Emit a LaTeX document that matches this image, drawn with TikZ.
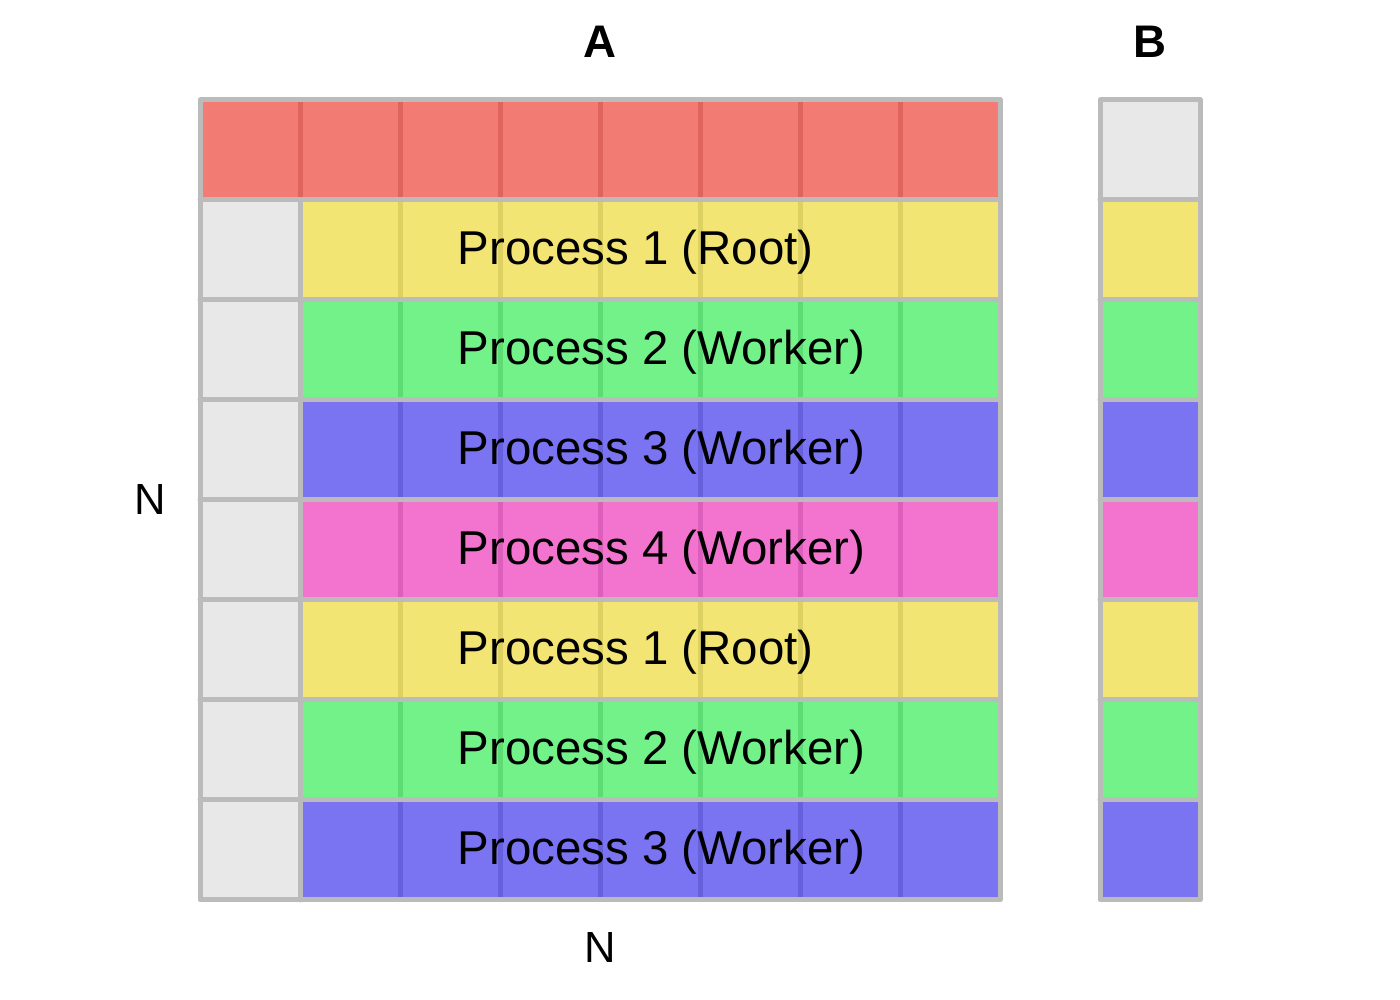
\documentclass[tikz,border=0pt]{standalone}
\usepackage{fontspec}
\setmainfont{Liberation Sans}
\definecolor{gridgrey}{HTML}{BBBBBB}
\definecolor{cellgrey}{HTML}{E8E8E8}
\definecolor{cr}{HTML}{F27B74}
\definecolor{cdr}{HTML}{E0645E}
\definecolor{cy}{HTML}{F2E574}
\definecolor{cdy}{HTML}{DDD162}
\definecolor{cg}{HTML}{74F28A}
\definecolor{cdg}{HTML}{5EDC74}
\definecolor{cb}{HTML}{7A74F2}
\definecolor{cdb}{HTML}{6660DD}
\definecolor{cp}{HTML}{F274CF}
\definecolor{cdp}{HTML}{DC60BB}
\begin{document}
\begin{tikzpicture}[x=1cm,y=1cm,
  gridline/.style={draw=gridgrey, line width=0.05cm, line join=round, line cap=round},
  divline/.style={line width=0.05cm},
  proc/.style={inner sep=0pt, anchor=base west, font=\fontsize{13.5}{16}\selectfont},
  lab/.style={inner sep=0pt, font=\fontsize{12.4}{14}\selectfont},
  blab/.style={inner sep=0pt, font=\fontsize{13}{15}\selectfont\bfseries}]
\useasboundingbox (0,0) rectangle (14,10);
% grey cells
\fill[cellgrey] (2,1) rectangle (3,8);
\fill[cellgrey] (11,8) rectangle (12,9);
% red row
\fill[cr] (2,8) rectangle (10,9);
\foreach \x in {3,...,9} \draw[divline, cdr] (\x,8) -- (\x,9);
% coloured rows
\foreach \r/\c in {1/y,2/g,3/b,4/p,5/y,6/g,7/b} {
  \fill[c\c] (3,8-\r) rectangle (10,9-\r);
  \fill[c\c] (11,8-\r) rectangle (12,9-\r);
  \foreach \x in {4,...,9} \draw[divline, cd\c] (\x,8-\r) -- (\x,9-\r);
}
% grid of A
\foreach \y in {2,...,8} \draw[gridline] (2,\y) -- (10,\y);
\draw[gridline] (3,1) -- (3,8);
\draw[gridline] (2,1) rectangle (10,9);
% grid of B
\foreach \y in {2,...,8} \draw[gridline] (11,\y) -- (12,\y);
\draw[gridline] (11,1) rectangle (12,9);
% texts
\node[proc] (p1) at (4.57,7.35) {Process 1 (Root)};
\node[proc] (p2) at (4.57,6.35) {Process 2 (Worker)};
\node[proc] (p3) at (4.57,5.35) {Process 3 (Worker)};
\node[proc] (p4) at (4.57,4.35) {Process 4 (Worker)};
\node[proc] (p5) at (4.57,3.35) {Process 1 (Root)};
\node[proc] (p6) at (4.57,2.35) {Process 2 (Worker)};
\node[proc] (p7) at (4.57,1.35) {Process 3 (Worker)};
% labels
\node[blab] (labA) at (6,9.58) {A};
\node[blab] (labB) at (11.5,9.58) {B};
\node[lab] (labNl) at (1.5,5.0) {N};
\node[lab] (labNb) at (6,0.52) {N};
\end{tikzpicture}
\end{document}
